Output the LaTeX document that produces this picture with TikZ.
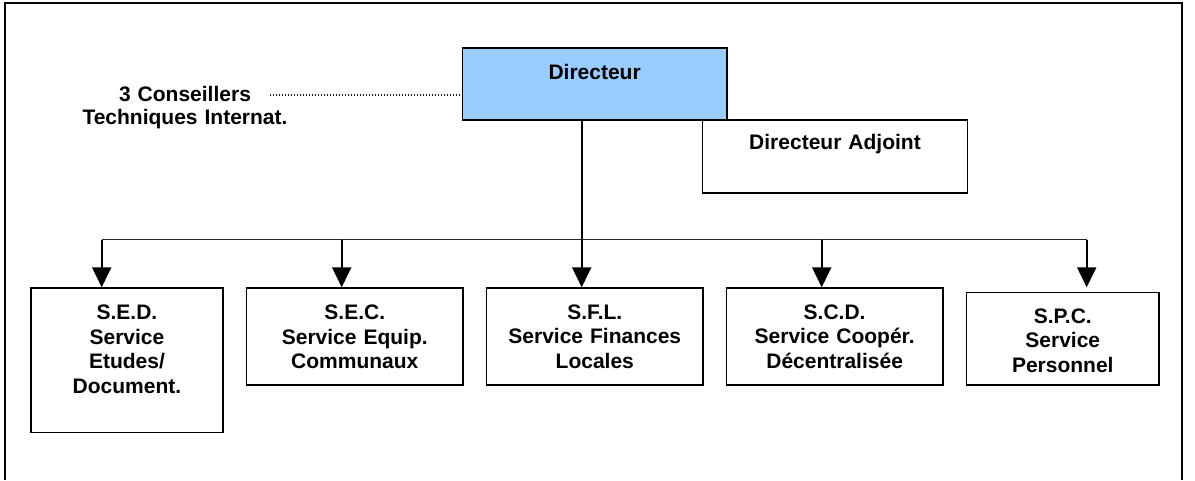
\documentclass[tikz,border=0pt]{standalone}
\usepackage{fontspec}
\setmainfont{Liberation Sans}
\usetikzlibrary{arrows.meta}
\definecolor{dirblue}{RGB}{153,204,255}
\begin{document}
\begin{tikzpicture}[x=1pt,y=-1pt,
  font=\fontsize{21}{24.5}\selectfont\bfseries,
  orgbox/.style={draw=black, line width=1.6pt, inner sep=0pt,
                 anchor=north west, align=center},
  trunk/.style={line width=2pt},
  bus/.style={line width=1.4pt, draw=black!85},
  arr/.style={line width=2pt, -{Triangle[length=20pt,width=19pt]}},
  advice/.style={line width=1.3pt, draw=black!90, dash pattern=on 1.2pt off 1.8pt}
]
\useasboundingbox (0,0) rectangle (1195,480);

% page frame, open at the bottom
\draw[line width=2.2pt] (5,480) -- (5,3.3) -- (1181.7,3.3) -- (1181.7,480);

% management
\node[orgbox, fill=dirblue, text width=264.3pt, text height=31.5pt, text depth=40.5pt]
  (dir) at (461.7,47.3) {Directeur};
\node[orgbox, fill=white, text width=265pt, text height=29.5pt, text depth=43.5pt]
  (adj) at (701.7,119) {Directeur Adjoint};

% advisers attached to the director
\node[inner sep=0pt, anchor=north, align=center, text width=230pt, text height=16pt,
      font=\fontsize{21}{22.5}\selectfont\bfseries]
  (cti) at (185,85.7) {3 Conseillers\\Techniques Internat.};
\coordinate (advstart) at (270,95);
\draw[advice] (advstart) -- (advstart -| dir.west);

% services
\node[orgbox, text width=192.3pt, text height=31.5pt, text depth=112.9pt]
  (sed) at (30,287.3) {S.E.D.\\Service\\Etudes/\\Document.};
\node[orgbox, text width=216.6pt, text height=31.5pt, text depth=65.2pt]
  (sec) at (245.7,287.3) {S.E.C.\\Service Equip.\\Communaux};
\node[orgbox, text width=216.6pt, text height=31pt, text depth=65.7pt]
  (sfl) at (485.7,287.3) {S.F.L.\\Service Finances\\Locales};
\node[orgbox, text width=216.3pt, text height=31pt, text depth=65.7pt]
  (scd) at (725.7,287.3) {S.C.D.\\Service Coop\'er.\\D\'ecentralis\'ee};
\node[orgbox, text width=192.6pt, text height=30.6pt, text depth=61.7pt]
  (spc) at (965.7,291.7) {S.P.C.\\Service\\Personnel};

% distribution bus
\coordinate (b1) at (101.7,239.5);
\coordinate (b2) at (341.7,239.5);
\coordinate (b3) at (581.7,239.5);
\coordinate (b4) at (821.7,239.5);
\coordinate (b5) at (1086.7,239.5);

\draw[trunk] (b3 |- dir.south) -- (b3);
\draw[bus] (b1) -- (b5);
\draw[arr] (b1) -- (b1 |- sed.north);
\draw[arr] (b2) -- (b2 |- sec.north);
\draw[arr] (b3) -- (b3 |- sfl.north);
\draw[arr] (b4) -- (b4 |- scd.north);
\draw[arr] (b5) -- (b5 |- sed.north);
\end{tikzpicture}
\end{document}
